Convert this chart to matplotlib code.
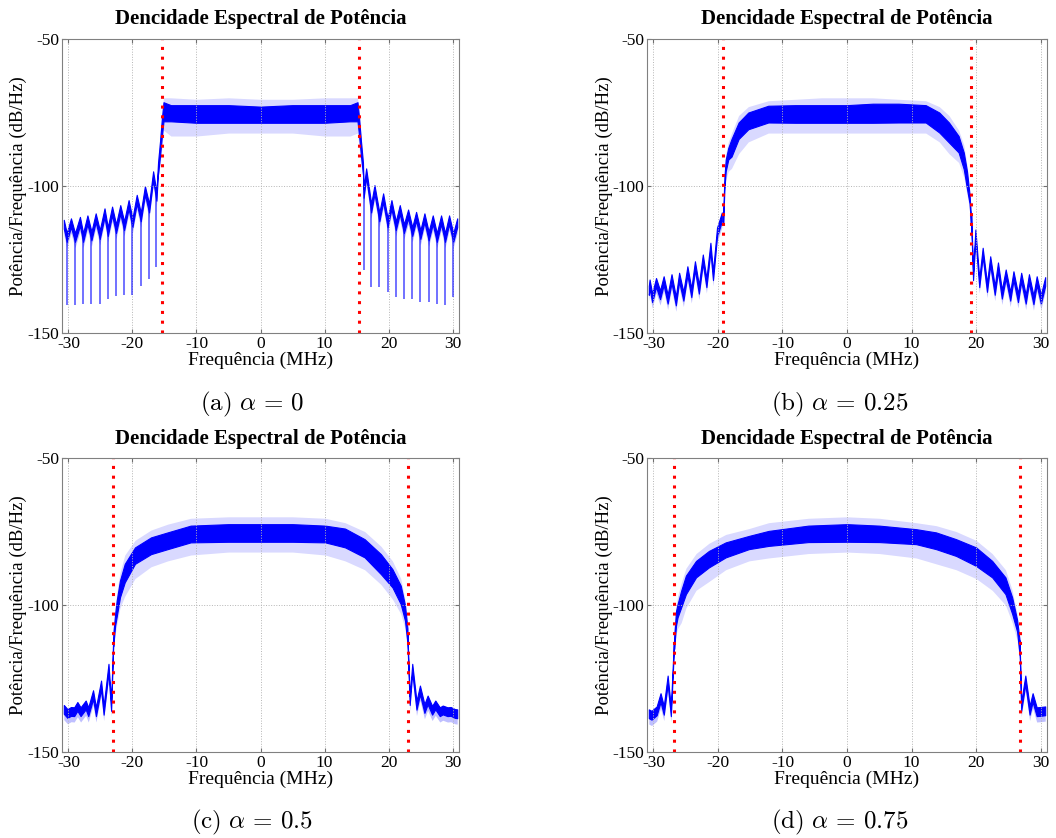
import matplotlib
matplotlib.use('Agg')
import matplotlib.pyplot as plt
import numpy as np

plt.rcParams['font.family'] = ['Liberation Serif', 'DejaVu Serif']
plt.rcParams['axes.unicode_minus'] = False
plt.rcParams['mathtext.fontset'] = 'cm'

titulo = 'Dencidade Espectral de Potência'
xlabel = 'Frequência (MHz)'
ylabel = 'Potência/Frequência (dB/Hz)'
legendas = [r'$\mathrm{(a)}\ \alpha \,=\, 0$', r'$\mathrm{(b)}\ \alpha \,=\, 0.25$',
            r'$\mathrm{(c)}\ \alpha \,=\, 0.5$', r'$\mathrm{(d)}\ \alpha \,=\, 0.75$']
xticks = [-30, -20, -10, 0, 10, 20, 30]
yticks = [-150, -100, -50]
bordas = [15.36, 19.2, 23.04, 26.88]  # limite da banda (linhas vermelhas)

# ---------------- (a) alpha = 0 ----------------
a_f   = [-16.0, -15.7, -15.4, -15.15, -14, -10, -5, 0, 5, 10, 14, 15.15, 15.4, 15.7, 16.0]
a_hi  = [-92, -85, -77, -71.5, -72.5, -72.5, -72.5, -73, -72.5, -72.5, -72.5, -71.5, -77, -85, -92]
a_lo  = [-96, -90, -83, -78, -78, -78.5, -78.5, -78.5, -78.5, -78.5, -78, -78, -83, -90, -96]
a_max = [-90, -83, -75, -70, -70, -70.5, -70, -70.5, -70.5, -70, -70, -70, -75, -83, -90]
a_min = [-97, -93, -87, -81, -83, -83, -82, -82, -82, -83, -83, -82, -87, -93, -97]
a_lobo_esq_f  = [-30.72, -30.26, -29.6, -28.97, -28.2, -27.7, -27.03, -26.4, -25.74, -25.1, -24.36, -23.85,
                 -23.18, -22.56, -21.9, -21.3, -20.6, -20.0, -19.33, -18.7, -18.05, -17.4, -16.77, -16.25, -16.0]
a_lobo_esq_db = [-111.5, -116, -111, -116, -110.5, -116, -110, -115.5, -109.3, -115, -107.6, -114,
                 -107, -113, -106.5, -112, -104.8, -111, -103, -109, -100, -106, -95, -102, -92]
a_lobo_dir_f  = [16.0, 16.1, 16.5, 17.28, 17.8, 18.56, 19.15, 19.85, 20.45, 21.13, 21.75, 22.4,
                 23.05, 23.7, 24.3, 24.97, 25.6, 26.26, 26.9, 27.54, 28.2, 28.82, 29.45, 30.1, 30.72]
a_lobo_dir_db = [-92, -101, -94, -106, -99.7, -109, -102.5, -111, -104.8, -112, -106.5, -113,
                 -108, -114, -108.8, -115, -109.3, -115.5, -110, -116, -110, -116, -110, -116, -111]
a_nulo_f  = [-30.26, -28.97, -27.7, -26.4, -25.1, -23.85, -22.56, -21.3, -20.0, -18.7, -17.4, -16.25,
             16.1, 17.28, 18.56, 19.85, 21.13, 22.4, 23.7, 24.97, 26.26, 27.54, 28.82, 30.1]
a_nulo_db = [-140.5, -140.5, -140, -140, -140, -138.5, -137.5, -137, -137, -134, -131.5, -127.5,
             -128.6, -134.3, -134.3, -136, -137.7, -138.3, -138.3, -139.4, -139.4, -140, -140.6, -137.7]

# ---------------- (b) alpha = 0.25 ----------------
b_f   = [-19.2, -19.0, -18.8, -18.4, -17.9, -16.8, -15.3, -12.2, -8, -4, 0, 4, 8, 12.2, 14.3, 15.8, 17.3, 18.1, 18.6, 19.0, 19.2]
b_hi  = [-110, -97, -91, -87, -84, -78.4, -75, -72.7, -72.5, -72.5, -72.5, -72, -72, -72.5, -75, -78.4, -83, -88.6, -95, -103, -110]
b_lo  = [-113, -101, -95, -91, -90, -84, -80.7, -78.4, -78.5, -78.5, -78.5, -78.5, -78.4, -78.4, -81.8, -85.2, -88.6, -94.3, -101, -106, -113]
b_max = [-108, -95, -89, -85, -82, -76, -73, -71, -70.5, -70, -70, -70, -70.5, -71, -73, -76, -81, -86, -93, -101, -108]
b_min = [-115, -103, -98, -95, -94, -89, -85, -82, -82, -82, -82, -82, -82, -82, -85, -89, -92, -97, -103, -108, -115]
b_lobo_esq_f  = [-30.72, -30.6, -30.2, -29.6, -28.98, -28.42, -27.8, -27.2, -26.53, -26.02, -25.36, -24.74,
                 -24.13, -23.57, -22.96, -22.35, -21.79, -21.17, -20.77, -20.15, -19.4]
b_lobo_esq_db = [-134, -131.8, -136.5, -131.3, -135.5, -130.7, -137, -130, -137.6, -129.5, -136, -127.3,
                 -134.8, -125.6, -133.6, -123.3, -131.4, -119.3, -129, -114.2, -109]
b_lobo_dir_f  = [19.25, 19.54, 19.9, 20.5, 21.03, 21.7, 22.2, 22.9, 23.4, 24.0, 24.6, 25.3, 25.8, 26.5,
                 27.0, 27.7, 28.2, 28.9, 29.4, 30.05, 30.72]
b_lobo_dir_db = [-110, -129, -114.8, -131.4, -121, -133, -123.9, -134, -126, -135.3, -128.4, -136, -129, -136.5,
                 -129.5, -137, -130, -137.2, -130.7, -137, -131]

# ---------------- (c) alpha = 0.5 ----------------
c_f   = [-23.0, -22.7, -22.46, -21.95, -21.2, -19.6, -17.1, -14.5, -10.9, -5, 0, 5, 10.1, 13.2, 16.26, 18.8, 20.6, 21.9, 22.56, 22.95]
c_hi  = [-110, -103, -98.5, -91.7, -86, -80.4, -77, -75.3, -73, -72.5, -72.5, -72.5, -73, -74, -77.6, -82.7, -87.8, -93.4, -100, -108]
c_lo  = [-114, -107, -104, -97.4, -92.3, -86, -82.7, -81, -78.7, -78.5, -78.5, -78.5, -78.7, -80.4, -83.8, -89.5, -94, -99.7, -105.3, -113]
c_max = [-108, -101, -96, -89, -83, -78, -74.5, -72.5, -70.5, -70, -70, -70, -70.5, -72, -75, -80, -85, -91, -98, -106]
c_min = [-116, -110, -107, -101, -97, -91, -87, -85, -83, -82, -82, -82, -83, -85, -88, -93, -98, -103, -108, -115]
c_lobo_esq_f  = [-30.72, -30.15, -29.6, -29.1, -28.6, -28.1, -27.3, -26.9, -26.15, -25.7, -24.9, -24.5, -23.74, -23.33, -23.0]
c_lobo_esq_db = [-134, -135.4, -134.7, -134.8, -133, -134.8, -132.5, -134.8, -129, -134.8, -125.7, -134.3, -120, -133, -111]
c_lobo_dir_f  = [22.95, 23.3, 23.7, 24.36, 24.9, 25.6, 26.1, 26.8, 27.3, 28.0, 28.46, 29.2, 29.7, 30.36, 30.72]
c_lobo_dir_db = [-110, -131, -120, -132.6, -127.4, -133.7, -130.8, -134.3, -132.5, -134.8, -134.2, -134.8, -134.7, -135.4, -135.5]

# ---------------- (d) alpha = 0.75 ----------------
d_f   = [-26.8, -26.5, -26.26, -25.7, -24.97, -23.4, -21.4, -18.8, -15.2, -12.15, -6, 0, 5, 10.7, 13.8, 16.9, 20, 22.5, 24.56, 25.6, 26.36, 26.75]
d_hi  = [-111, -102, -99.7, -95.1, -90, -85, -81.6, -78.7, -76.5, -74.8, -73, -72.5, -73, -74.2, -75.3, -77.6, -80.4, -85, -90.6, -97.4, -105, -112]
d_lo  = [-115, -107, -104.2, -100.8, -96.3, -90.6, -87.2, -83.8, -81, -79.9, -78.6, -78.5, -78.6, -79.3, -81, -83.3, -86.7, -90.6, -96.3, -103, -109, -117]
d_max = [-109, -100, -97, -92.5, -87.5, -82.5, -79, -76, -74, -72, -70.5, -70, -70.5, -72, -73, -75, -78, -82.5, -88, -95, -103, -110]
d_min = [-117, -110, -108, -106, -101, -95, -92, -88, -85, -84, -82.5, -82, -82.5, -84, -86, -88, -91, -95, -100, -106, -112, -119]
d_lobo_esq_f  = [-30.72, -30.3, -29.5, -28.9, -28.4, -27.8, -27.3, -26.85]
d_lobo_esq_db = [-135.5, -136, -134.5, -130, -134.3, -124, -134.8, -113]
d_lobo_dir_f  = [26.75, 27.0, 27.64, 28.3, 28.77, 29.4, 29.95, 30.72]
d_lobo_dir_db = [-112, -133, -124, -134.3, -130, -134.8, -134.7, -134.5]

azul = '#0000ff'
espessura = 5  # espessura (dB) do traço escuro dos lóbulos laterais

# posicao dos eixos em pixels: esquerda, topo, direita, base
W, H = 1056, 838
caixas = [(62, 39, 459, 333), (647, 39, 1047, 333), (62, 458, 459, 752), (647, 458, 1047, 752)]
centros_leg = [(252, 404), (840, 404), (252, 822), (840, 822)]

dados = [
    (a_f, a_hi, a_lo, a_max, a_min, [(a_lobo_esq_f, a_lobo_esq_db), (a_lobo_dir_f, a_lobo_dir_db)]),
    (b_f, b_hi, b_lo, b_max, b_min, [(b_lobo_esq_f, b_lobo_esq_db), (b_lobo_dir_f, b_lobo_dir_db)]),
    (c_f, c_hi, c_lo, c_max, c_min, [(c_lobo_esq_f, c_lobo_esq_db), (c_lobo_dir_f, c_lobo_dir_db)]),
    (d_f, d_hi, d_lo, d_max, d_min, [(d_lobo_esq_f, d_lobo_esq_db), (d_lobo_dir_f, d_lobo_dir_db)]),
]

fig = plt.figure(figsize=(W / 100, H / 100), dpi=100)

for i, (f, hi, lo, mx, mn, lobos) in enumerate(dados):
    x0, y0, x1, y1 = caixas[i]
    ax = fig.add_axes([x0 / W, 1 - y1 / H, (x1 - x0) / W, (y1 - y0) / H])

    # banda principal: faixa clara (picos do ruido) e faixa escura
    ax.fill_between(f, mx, mn, color=azul, alpha=0.15, lw=0)
    ax.fill_between(f, hi, lo, color=azul, lw=0.8)
    # lobulos laterais
    for lf, ldb in lobos:
        ldb = np.array(ldb)
        ax.fill_between(lf, ldb, ldb - espessura, color=azul, alpha=0.25, lw=0)
        ax.fill_between(lf, ldb, ldb - espessura * 0.6, color=azul, lw=0.8)
    # nulos profundos do caso alpha = 0
    if i == 0:
        lf = a_lobo_esq_f + a_lobo_dir_f
        ldb = a_lobo_esq_db + a_lobo_dir_db
        ordem = np.argsort(lf)
        topo = np.interp(a_nulo_f, np.array(lf)[ordem], np.array(ldb)[ordem])
        ax.vlines(a_nulo_f, a_nulo_db, topo, color=azul, lw=1.3, alpha=0.6)

    ax.axvline(-bordas[i], color='red', ls=(0, (1, 2.2)), lw=2.2)
    ax.axvline(bordas[i], color='red', ls=(0, (1, 2.2)), lw=2.2)

    ax.set_xlim(-31, 31)
    ax.set_ylim(-150, -50)
    ax.set_xticks(xticks)
    ax.set_yticks(yticks)
    ax.grid(True, ls=':', color='#b5b5b5', lw=0.7)
    ax.tick_params(direction='in', length=3, color='#707070', labelsize=12.5, pad=2,
                   top=True, right=True)
    for s in ax.spines.values():
        s.set_color('#808080')

    ax.text(0.5, 1 + 19.5 / 294, titulo, transform=ax.transAxes, ha='center', va='center',
            fontsize=15, fontweight='bold')
    ax.set_xlabel(xlabel, fontsize=14, va='center')
    ax.xaxis.set_label_coords(0.5, -27 / 294)
    ax.set_ylabel(ylabel, fontsize=13.5, va='center')
    ax.yaxis.set_label_coords((18 if i % 2 == 0 else 604) / (x1 - x0) - x0 / (x1 - x0), 0.5)

    cx, cy = centros_leg[i]
    fig.text(cx / W, 1 - cy / H, legendas[i], ha='center', va='center', fontsize=18)

fig.savefig('out.png', dpi=100)
